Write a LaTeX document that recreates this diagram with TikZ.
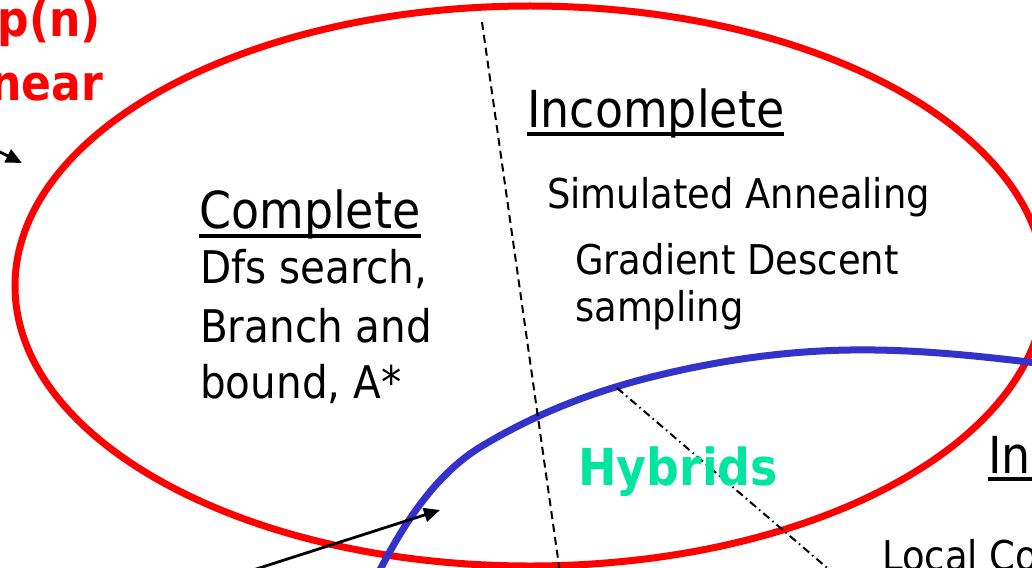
\documentclass[tikz,border=0pt]{standalone}
\usepackage{fontspec}
\setmainfont{DejaVu Sans}[FakeStretch=0.9]
\usetikzlibrary{arrows.meta}
\definecolor{redl}{RGB}{255,0,0}
\definecolor{bluel}{RGB}{51,51,204}
\definecolor{mint}{RGB}{0,230,160}
\tikzset{
  txt/.style={inner sep=0pt, anchor=base west},
  head/.style={txt, font=\fontsize{51}{51}\selectfont},
  bodyL/.style={txt, font=\fontsize{45}{45}\selectfont},
  bodyR/.style={txt, font=\fontsize{41}{41}\selectfont},
  redtxt/.style={inner sep=0pt, anchor=base east, text=redl, font=\fontsize{49}{49}\selectfont\bfseries},
  uline/.style={line width=4.5pt},
  ptr/.style={line width=2.8pt, -{Triangle[length=16pt, width=14pt]}},
}
\begin{document}
\begin{tikzpicture}[x=1pt, y=-1pt]
\useasboundingbox (0,0) rectangle (1032,567);
\clip (0,0) rectangle (1032,567);
\fill[white] (0,0) rectangle (1032,567);

% red ellipse (search)
\draw[redl, line width=7pt] (530,286) ellipse [x radius=515, y radius=280];
% blue ellipse (inference), visible part
\draw[bluel, line width=7pt] (370,590)
  .. controls (398,532) and (432,476) .. (482,446)
  .. controls (532,416) and (584,395) .. (640,380)
  .. controls (708,362) and (780,351) .. (850,350)
  .. controls (915,349) and (980,356) .. (1045,364);

% dividers
\coordinate (d1) at (482,22);
\coordinate (d2) at (561,580);
\draw[line width=2pt, dash pattern=on 8pt off 5pt] (d1) -- (d2);
\coordinate (e1) at (617,388);
\coordinate (e2) at (860,596);
\draw[line width=2pt, dash pattern=on 8pt off 4pt on 1.5pt off 4pt] (e1) -- (e2);

% red labels at top left
\node[redtxt] (exp) at (101,37) {exp(n)};
\node[redtxt] (lin) at (103,100) {linear};

% arrows
\coordinate (a1s) at (-20,142);
\coordinate (a1t) at (22,163);
\draw[ptr] (a1s) -- (a1t);
\coordinate (a2s) at (250,571);
\coordinate (a2t) at (440,510);
\draw[ptr] (a2s) -- (a2t);

% complete search
\node[head] (comp) at (199,228) {Complete};
\draw[uline] ([yshift=-8pt]comp.base west) -- ([yshift=-8pt]comp.base east);
\node[bodyL] (l1) at (200,283) {Dfs search,};
\node[bodyL] (l2) at (200,342) {Branch and};
\node[bodyL] (l3) at (200,398) {bound, A*};

% incomplete search
\node[head] (inc) at (527,127) {Incomplete};
\draw[uline] ([yshift=-7pt]inc.base west) -- ([yshift=-7pt]inc.base east);
\node[bodyR] (sa) at (547,208) {Simulated Annealing};
\node[bodyR] (gd) at (575,274) {Gradient Descent};
\node[bodyR] (smp) at (575,321) {sampling};

% hybrids
\node[txt, text=mint, font=\fontsize{51}{51}\selectfont\bfseries] (hyb) at (578,485) {Hybrids};

% incomplete inference (cut by frame)
\node[head] (inc2) at (988,473) {Incomplete};
\draw[uline] ([yshift=-6pt]inc2.base west) -- ([yshift=-6pt]inc2.base east);
\node[bodyR] (lc) at (882,570) {Local Consistency};
\end{tikzpicture}
\end{document}
